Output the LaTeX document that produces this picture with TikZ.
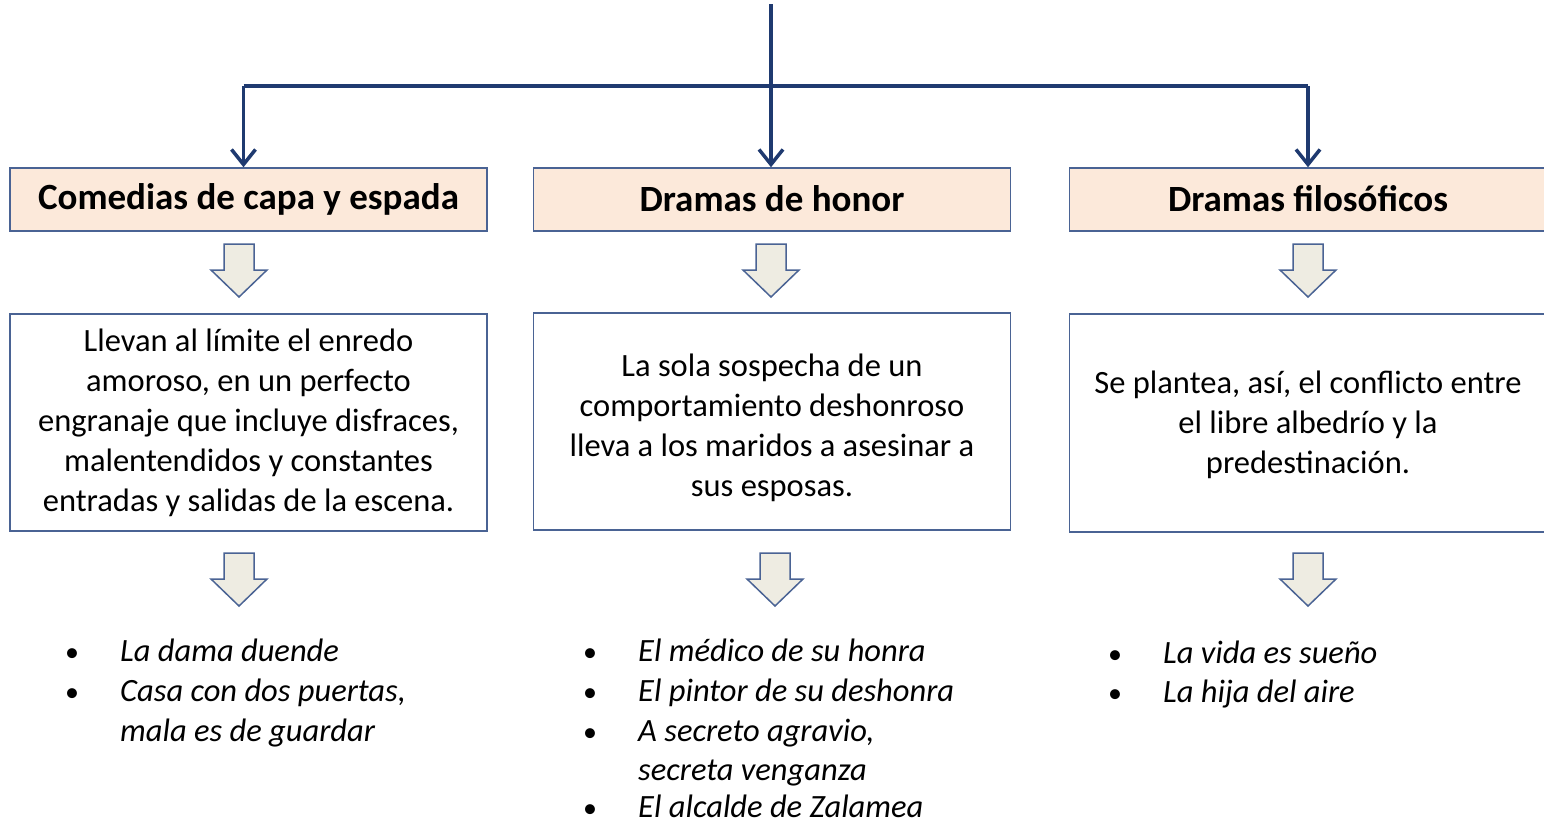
\documentclass[tikz,border=0pt]{standalone}
\usepackage{fontspec}
\setmainfont{Carlito}
\usetikzlibrary{arrows.meta,calc}
\definecolor{navy}{HTML}{1F3A70}
\definecolor{boxline}{HTML}{4A6394}
\definecolor{peach}{HTML}{FCE9DA}
\definecolor{arrowfill}{HTML}{EEECE2}
\begin{document}
\begin{tikzpicture}[x=1pt,y=-1pt,
  conn/.style={draw=navy,line width=3.5pt,-{Straight Barb[length=15pt,width=24pt,line width=3.5pt]}},
  conntrunk/.style={draw=navy,line width=3.5pt},
  header/.style={draw=boxline,line width=1.5pt,fill=peach,minimum width=477pt,minimum height=63pt,inner sep=0pt,font=\bfseries\fontsize{37}{42}\selectfont},
  desc/.style={draw=boxline,line width=1.5pt,fill=white,minimum width=477pt,inner sep=0pt,align=center,font=\fontsize{32.5}{40}\selectfont},
  bul/.style={anchor=base,inner sep=0pt,font=\fontsize{28}{40}\selectfont},
  item/.style={anchor=base west,inner sep=0pt,font=\itshape\fontsize{32.5}{40}\selectfont},
  harrow/.pic={\draw[draw=boxline,line width=1.5pt,fill=arrowfill,line join=miter]
     (-15,0) -- (15,0) -- (15,26) -- (28,26) -- (0,53) -- (-28,26) -- (-15,26) -- cycle;}
]
\useasboundingbox (0,0) rectangle (1544,823);
\clip (0,0) rectangle (1544,823);
% headers
\node[header] (h1) at (248.5,199.5) {\raisebox{2pt}{Comedias de capa y espada}};
\node[header] (h2) at (772,199.5) {\raisebox{2pt}{Dramas de honor}};
\node[header] (h3) at (1308,199.5) {\raisebox{2pt}{Dramas filosóficos}};
% descriptions
\node[desc,minimum height=217pt] (d1) at (248.5,422.5) {Llevan al límite el enredo\\amoroso, en un perfecto\\engranaje que incluye disfraces,\\malentendidos y constantes\\entradas y salidas de la escena.};
\node[desc,minimum height=217pt] (d2) at (772,421.5) {\rule{0pt}{36pt}La sola sospecha de un\\comportamiento deshonroso\\lleva a los maridos a asesinar a\\sus esposas.};
\node[desc,minimum height=218pt] (d3) at (1308,423) {\rule{0pt}{27pt}Se plantea, así, el conflicto entre\\el libre albedrío y la\\predestinación.};
% connectors
\coordinate (top) at (771,4);
\coordinate (bar) at (771,86);
\draw[conn] (top) -- (h2.north -| top);
\draw[conntrunk] ([xshift=-5pt]h1.north |- bar) -- ([xshift=0pt]h3.north |- bar);
\draw[conn] ([xshift=-5pt]h1.north |- bar) -- ([xshift=-5pt]h1.north);
\draw[conn] (h3.north |- bar) -- (h3.north);
% hollow arrows
\pic at (239,244) {harrow};
\pic at (771,244) {harrow};
\pic at (1308,244) {harrow};
\pic at (239,553) {harrow};
\pic at (775,553) {harrow};
\pic at (1308,553) {harrow};
% lists
\node[bul] (b1a) at (72,661) {•};
\node[item] (t1a) at (120,661) {La dama duende};
\node[bul] (b1b) at (72,701) {•};
\node[item] (t1b) at (120,701) {Casa con dos puertas,};
\node[item] (t1c) at (120,741) {mala es de guardar};
\node[bul] (b2a) at (590,661) {•};
\node[item] (t2a) at (638,661) {El médico de su honra};
\node[bul] (b2b) at (590,701) {•};
\node[item] (t2b) at (638,701) {El pintor de su deshonra};
\node[bul] (b2c) at (590,741) {•};
\node[item] (t2c) at (638,741) {A secreto agravio,};
\node[item] (t2d) at (638,780) {secreta venganza};
\node[bul] (b2e) at (590,817) {•};
\node[item] (t2e) at (638,817) {El alcalde de Zalamea};
\node[bul] (b3a) at (1115,663) {•};
\node[item] (t3a) at (1163,663) {La vida es sueño};
\node[bul] (b3b) at (1115,702) {•};
\node[item] (t3b) at (1163,702) {La hija del aire};
\end{tikzpicture}
\end{document}
